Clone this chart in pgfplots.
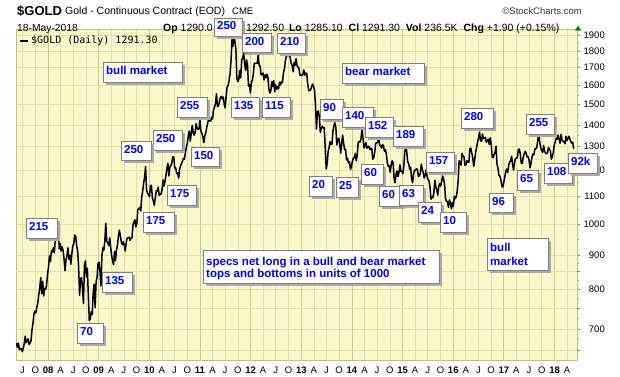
\documentclass[border=0pt]{standalone}
\usepackage{fontspec}
\setmainfont{Liberation Sans}
\newfontfamily\legfont{DejaVu Sans Mono}
\usepackage{pgfplots}
\usepackage{pgfplotstable}
\pgfplotsset{compat=1.18}
\definecolor{bgcol}{RGB}{248,248,202}
\definecolor{gridq}{RGB}{224,224,172}
\definecolor{gridy}{RGB}{200,204,145}
\definecolor{framecol}{RGB}{190,194,130}
\definecolor{boxgray}{RGB}{128,128,128}
\definecolor{shadowgray}{RGB}{170,170,170}
\definecolor{anntext}{RGB}{0,0,255}
\definecolor{upgreen}{RGB}{0,130,0}
\newcommand{\boxfont}{\fontsize{11.5}{12.5}\selectfont\bfseries}
\newcommand{\boxonly}[4]{%
  \fill[shadowgray] (#1+2.5,#2+2.5) rectangle (#3+2.5,#4+2.5);
  \filldraw[fill=white,draw=boxgray,line width=0.8pt] (#1,#2) rectangle (#3,#4);}
\newcommand{\abox}[5]{%
  \boxonly{#1}{#2}{#3}{#4}
  \node[anchor=base west,inner sep=0pt,text=anntext,font=\boxfont] at (#1+3,{(#2+#4)/2+2.8}) {#5};}

% weekly closes, one value per week from 18-May-2007 to 18-May-2018
\pgfplotstableread[row sep=\\]{
p\\
667\\ 658\\ 667\\ 652\\ 655\\ 655\\ 648\\ 656\\ 666\\ 683\\ 668\\ 673\\ 677\\ 664\\ 667\\ 673\\ 698\\ 714\\ 737\\ 744\\ 739\\ 754\\ 765\\ 787\\ 806\\ 833\\ 789\\ 823\\ 783\\ 803\\ 801\\ 812\\ 842\\
865\\ 897\\ 881\\ 913\\ 909\\ 923\\ 907\\ 948\\ 975\\ 973\\ 1001\\ 919\\ 935\\ 912\\ 925\\ 914\\ 888\\ 853\\ 885\\ 897\\ 922\\ 887\\ 899\\ 872\\ 903\\ 928\\ 935\\ 963\\ 958\\ 928\\ 912\\ 864\\ 785\\ 830\\ 833\\ 802\\ 763\\ 870\\ 882\\ 836\\ 860\\ 786\\ 720\\ 725\\ 742\\ 735\\ 791\\ 815\\ 753\\ 821\\ 835\\ 874\\
878\\ 850\\ 810\\ 897\\ 922\\ 914\\ 944\\ 1002\\ 942\\ 939\\ 929\\ 954\\ 924\\ 898\\ 882\\ 871\\ 911\\ 884\\ 915\\ 930\\ 959\\ 979\\ 962\\ 940\\ 932\\ 941\\ 932\\ 912\\ 937\\ 953\\ 954\\ 956\\ 946\\ 953\\ 955\\ 996\\ 1006\\ 1014\\ 990\\ 1003\\ 1050\\ 1053\\ 1057\\ 1045\\ 1095\\ 1118\\ 1148\\ 1175\\ 1215\\ 1120\\ 1111\\ 1104\\
1097\\ 1138\\ 1140\\ 1092\\ 1081\\ 1065\\ 1093\\ 1119\\ 1118\\ 1133\\ 1102\\ 1106\\ 1107\\ 1125\\ 1161\\ 1137\\ 1156\\ 1180\\ 1209\\ 1228\\ 1177\\ 1213\\ 1218\\ 1230\\ 1256\\ 1256\\ 1209\\ 1210\\ 1188\\ 1189\\ 1168\\ 1204\\ 1217\\ 1228\\ 1237\\ 1249\\ 1246\\ 1275\\ 1297\\ 1318\\ 1347\\ 1371\\ 1325\\ 1357\\ 1397\\ 1366\\ 1352\\ 1362\\ 1406\\ 1384\\ 1379\\ 1380\\ 1421\\
1369\\ 1361\\ 1343\\ 1318\\ 1349\\ 1361\\ 1388\\ 1409\\ 1429\\ 1420\\ 1418\\ 1437\\ 1429\\ 1474\\ 1486\\ 1504\\ 1556\\ 1491\\ 1493\\ 1511\\ 1536\\ 1542\\ 1529\\ 1539\\ 1500\\ 1483\\ 1543\\ 1592\\ 1601\\ 1628\\ 1663\\ 1742\\ 1870\\ 1828\\ 1895\\ 1856\\ 1813\\ 1640\\ 1622\\ 1635\\ 1683\\ 1642\\ 1746\\ 1756\\ 1788\\ 1724\\ 1685\\ 1746\\ 1714\\ 1598\\ 1606\\ 1560\\
1617\\ 1630\\ 1665\\ 1726\\ 1725\\ 1725\\ 1726\\ 1778\\ 1711\\ 1711\\ 1659\\ 1662\\ 1669\\ 1631\\ 1659\\ 1642\\ 1663\\ 1645\\ 1580\\ 1560\\ 1572\\ 1622\\ 1594\\ 1627\\ 1566\\ 1604\\ 1579\\ 1593\\ 1583\\ 1619\\ 1603\\ 1621\\ 1616\\ 1672\\ 1692\\ 1740\\ 1770\\ 1771\\ 1772\\ 1785\\ 1757\\ 1724\\ 1712\\ 1677\\ 1731\\ 1714\\ 1752\\ 1711\\ 1704\\ 1696\\ 1657\\ 1656\\
1656\\ 1662\\ 1687\\ 1657\\ 1669\\ 1667\\ 1609\\ 1572\\ 1572\\ 1577\\ 1592\\ 1608\\ 1596\\ 1575\\ 1501\\ 1380\\ 1462\\ 1468\\ 1437\\ 1364\\ 1386\\ 1393\\ 1384\\ 1387\\ 1297\\ 1205\\ 1223\\ 1277\\ 1296\\ 1322\\ 1310\\ 1312\\ 1371\\ 1396\\ 1410\\ 1387\\ 1308\\ 1332\\ 1338\\ 1310\\ 1272\\ 1315\\ 1352\\ 1314\\ 1287\\ 1288\\ 1243\\ 1250\\ 1230\\ 1235\\ 1204\\ 1213\\
1237\\ 1249\\ 1254\\ 1270\\ 1240\\ 1263\\ 1318\\ 1323\\ 1321\\ 1339\\ 1385\\ 1334\\ 1294\\ 1303\\ 1318\\ 1293\\ 1300\\ 1302\\ 1287\\ 1293\\ 1292\\ 1246\\ 1252\\ 1274\\ 1316\\ 1316\\ 1320\\ 1337\\ 1309\\ 1303\\ 1294\\ 1309\\ 1305\\ 1280\\ 1287\\ 1267\\ 1231\\ 1216\\ 1218\\ 1192\\ 1222\\ 1239\\ 1231\\ 1165\\ 1150\\ 1185\\ 1197\\ 1175\\ 1190\\ 1222\\ 1195\\ 1195\\
1186\\ 1217\\ 1277\\ 1300\\ 1279\\ 1234\\ 1228\\ 1204\\ 1213\\ 1167\\ 1150\\ 1184\\ 1199\\ 1201\\ 1206\\ 1203\\ 1175\\ 1178\\ 1188\\ 1225\\ 1204\\ 1190\\ 1168\\ 1180\\ 1202\\ 1173\\ 1163\\ 1157\\ 1132\\ 1088\\ 1094\\ 1094\\ 1113\\ 1160\\ 1134\\ 1121\\ 1103\\ 1137\\ 1146\\ 1137\\ 1156\\ 1177\\ 1163\\ 1142\\ 1088\\ 1081\\ 1077\\ 1058\\ 1085\\ 1075\\ 1052\\ 1076\\
1061\\ 1098\\ 1090\\ 1097\\ 1118\\ 1158\\ 1239\\ 1231\\ 1221\\ 1271\\ 1259\\ 1255\\ 1221\\ 1222\\ 1240\\ 1235\\ 1232\\ 1290\\ 1294\\ 1272\\ 1252\\ 1216\\ 1244\\ 1276\\ 1298\\ 1322\\ 1339\\ 1366\\ 1327\\ 1323\\ 1357\\ 1336\\ 1337\\ 1341\\ 1320\\ 1326\\ 1334\\ 1310\\ 1339\\ 1313\\ 1257\\ 1252\\ 1266\\ 1275\\ 1302\\ 1224\\ 1208\\ 1178\\ 1177\\ 1162\\ 1137\\ 1133\\ 1152\\
1173\\ 1197\\ 1205\\ 1190\\ 1220\\ 1234\\ 1239\\ 1258\\ 1226\\ 1201\\ 1230\\ 1249\\ 1249\\ 1254\\ 1288\\ 1289\\ 1268\\ 1228\\ 1228\\ 1254\\ 1268\\ 1280\\ 1271\\ 1255\\ 1257\\ 1242\\ 1210\\ 1228\\ 1255\\ 1269\\ 1264\\ 1290\\ 1291\\ 1297\\ 1330\\ 1351\\ 1320\\ 1297\\ 1284\\ 1275\\ 1305\\ 1280\\ 1272\\ 1269\\ 1273\\ 1296\\ 1288\\ 1281\\ 1246\\ 1257\\ 1275\\ 1309\\
1322\\ 1338\\ 1333\\ 1352\\ 1333\\ 1315\\ 1356\\ 1330\\ 1323\\ 1323\\ 1313\\ 1347\\ 1327\\ 1335\\ 1347\\ 1336\\ 1323\\ 1315\\ 1320\\ 1291\\
}\gold

\begin{document}
\begin{tikzpicture}
\useasboundingbox (0,0) rectangle (620pt,376pt);
\begin{axis}[
  at={(16pt,16pt)}, anchor=south west,
  scale only axis, width=561pt, height=331pt,
  xmin=-0.5, xmax=577.4,
  ymode=log, ymin=630, ymax=1939,
  axis background/.style={fill=bgcol},
  axis line style={framecol,line width=0.8pt},
  xmajorgrids=true, ymajorgrids=true,
  major grid style={gridq,line width=0.6pt},
  xtick={6.21,19.36,45.38,58.39,71.53,97.56,110.57,123.71,149.74,162.75,175.89,201.91,214.92,228.06,254.09,267.10,280.24,306.27,319.28,332.42,358.45,371.46,384.60,410.63,423.64,436.78,462.80,475.81,488.95,514.98,527.99,541.13,567.16},
  xticklabels={J,O,A,J,O,A,J,O,A,J,O,A,J,O,A,J,O,A,J,O,A,J,O,A,J,O,A,J,O,A,J,O,A},
  extra x ticks={32.51,84.69,136.87,189.04,241.22,293.40,345.58,397.76,449.93,502.11,554.29},
  extra x tick labels={\textbf{08},\textbf{09},\textbf{10},\textbf{11},\textbf{12},\textbf{13},\textbf{14},\textbf{15},\textbf{16},\textbf{17},\textbf{18}},
  extra x tick style={major grid style={gridy,line width=0.9pt}},
  xtick style={draw=none},
  xticklabel style={font=\fontsize{9.5}{11}\selectfont},
  ytick={700,800,900,1000,1100,1200,1300,1400,1500,1600,1700,1800,1900},
  yticklabels={700,800,900,1000,1100,1200,1300,1400,1500,1600,1700,1800,1900},
  extra y ticks={650,750,850},
  extra y tick labels={},
  minor ytick={675,725,775,825,875,950,1050,1150,1250,1350,1450,1550,1650,1750,1850},
  ytick pos=right, yticklabel pos=right,
  tick align=outside,
  major tick length=3pt, minor tick length=2pt,
  ytick style={draw=gray,line width=0.6pt},
  yticklabel style={font=\fontsize{9.5}{11}\selectfont,anchor=east,inner sep=0pt,xshift=25pt},
]
\addplot[black,line width=1.5pt,line join=round] table[x expr=\coordindex,y=p]{\gold};
\end{axis}

\begin{scope}[x=1pt,y=-1pt,yshift=376pt]
% header
\node[anchor=base west,inner sep=0pt,font=\fontsize{13}{15}\selectfont\bfseries] at (17,15) {\$GOLD};
\node[anchor=base west,inner sep=0pt,font=\fontsize{10.5}{12}\selectfont] at (65,14.5) {Gold - Continuous Contract (EOD)};
\node[anchor=base west,inner sep=0pt,font=\fontsize{9.5}{11}\selectfont] at (232,14.5) {CME};
\node[anchor=base east,inner sep=0pt,font=\fontsize{9.5}{11}\selectfont,text=black!80] at (582,14.5) {\textcopyright StockCharts.com};
\node[anchor=base west,inner sep=0pt,font=\fontsize{10.3}{12}\selectfont] at (17,31) {18-May-2018};
\node[anchor=base east,inner sep=0pt,font=\fontsize{10.5}{12}\selectfont] at (213,31) {\textbf{Op} 1290.0};
\node[anchor=base west,inner sep=0pt,font=\fontsize{10.5}{12}\selectfont] at (246,31) {1292.50\hspace{2pt} \textbf{Lo} 1285.10\hspace{3pt} \textbf{Cl} 1291.30\hspace{3pt} \textbf{Vol} 236.5K\hspace{3pt} \textbf{Chg} +1.90 (+0.15\%)};
\fill[upgreen] (575,30.5) -- (581,30.5) -- (578,25.5) -- cycle;
% legend
\draw[line width=2.2pt] (20,41) -- (28,41);
\node[anchor=west,inner sep=0pt,font=\legfont\fontsize{10}{12}\selectfont] at (31,41) {\$GOLD (Daily) 1291.30};
% annotation boxes
\abox{214}{18}{242}{36}{250}
\abox{242}{33}{271}{52}{200}
\abox{277}{33}{305}{53}{210}
\abox{103}{62}{182}{82}{bull market}
\abox{177}{97}{207}{117}{255}
\abox{231}{97}{259}{117}{135}
\abox{262}{97}{290}{117}{115}
\abox{153}{130}{182}{150}{250}
\abox{121}{141}{151}{160}{250}
\abox{191}{147}{219}{166}{150}
\abox{167}{185}{196}{205}{175}
\abox{143}{212}{174}{232}{175}
\abox{26}{218}{57}{238}{215}
\abox{102}{272}{132}{292}{135}
\abox{77}{323}{103}{343}{70}
\boxonly{203}{250}{439}{283}
\node[anchor=base west,inner sep=0pt,text=anntext,font=\boxfont] at (206,265) {specs net long in a bull and bear market};
\node[anchor=base west,inner sep=0pt,text=anntext,font=\boxfont] at (206,277.5) {tops and bottoms in units of 1000};
\abox{342}{63}{424}{83}{bear market}
\abox{320}{99}{343}{119}{90}
\abox{342}{107}{373}{127}{140}
\abox{365}{117}{393}{137}{152}
\abox{393}{126}{423}{146}{189}
\abox{461}{108}{493}{128}{280}
\abox{526}{114}{554}{134}{255}
\abox{426}{152}{454}{172}{157}
\abox{544}{163}{572}{183}{108}
\abox{568}{153}{597}{173}{92k}
\abox{517}{170}{538}{190}{65}
\abox{361}{164}{383}{184}{60}
\abox{309}{176}{332}{196}{20}
\abox{336}{177}{358}{197}{25}
\abox{379}{186}{402}{206}{60}
\abox{399}{185}{423}{205}{63}
\abox{418}{202}{441}{222}{24}
\abox{440}{212}{466}{232}{10}
\abox{489}{193}{513}{212}{96}
\boxonly{487}{238}{548}{270}
\node[anchor=base west,inner sep=0pt,text=anntext,font=\boxfont] at (490,251.5) {bull};
\node[anchor=base west,inner sep=0pt,text=anntext,font=\boxfont] at (490,265) {market};
\end{scope}
\end{tikzpicture}
\end{document}
